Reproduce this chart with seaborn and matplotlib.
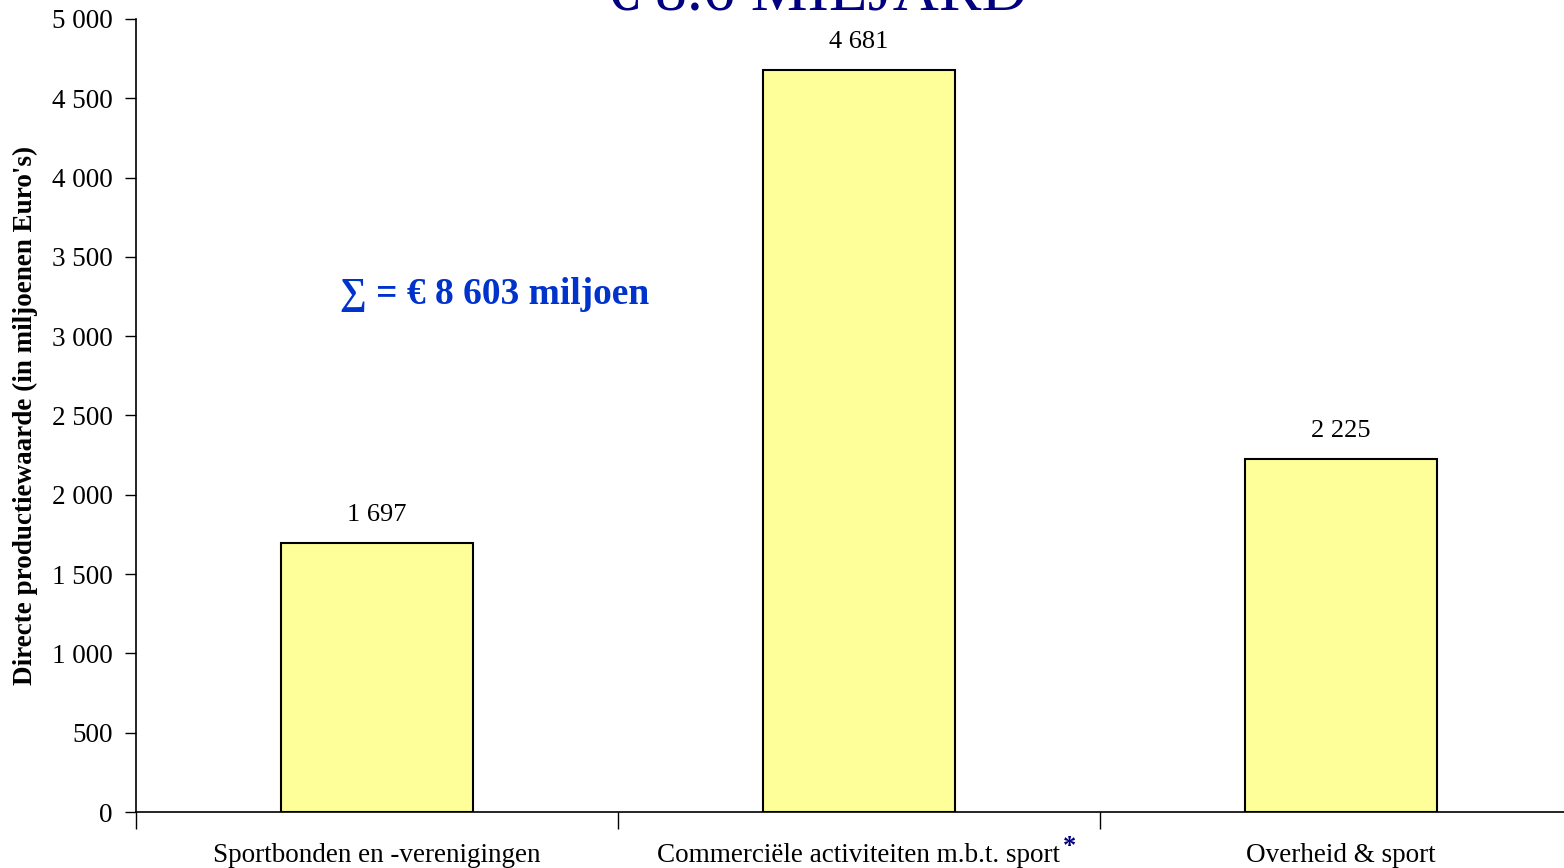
import matplotlib
matplotlib.use("Agg")
import matplotlib.pyplot as plt
import seaborn as sns
import pandas as pd

categories = ["Sportbonden en -verenigingen", "Commerciële activiteiten m.b.t. sport", "Overheid & sport"]
values = [1697, 4681, 2225]
yticks = [0, 500, 1000, 1500, 2000, 2500, 3000, 3500, 4000, 4500, 5000]
title = "€ 8.6 MILJARD"
sum_text = "∑ = € 8 603 miljoen"
ylabel = "Directe productiewaarde (in miljoenen Euro's)"

def fmt(v):
    return f"{v:,}".replace(",", " ")

sns.set_style("white")
plt.rcParams['font.family'] = ['Liberation Serif', 'DejaVu Serif']
plt.rcParams['text.color'] = 'black'
plt.rcParams['axes.labelcolor'] = 'black'
plt.rcParams['xtick.color'] = 'black'
plt.rcParams['ytick.color'] = 'black'

fig = plt.figure(figsize=(15.64, 8.68), dpi=100)
ax = fig.add_axes([136/1564, 56/868, 1446/1564, 793/868])

df = pd.DataFrame({"cat": categories, "val": values})
sns.barplot(data=df, x="cat", y="val", ax=ax, color="#FFFF99", saturation=1,
            width=0.4, edgecolor="black", linewidth=1.5)
for p in ax.patches:
    p.set_facecolor("#FFFF99")

ax.set_xlim(-0.5, 2.5)
ax.set_ylim(0, 5000)
ax.set_yticks(yticks)
ax.set_yticklabels([fmt(v) for v in yticks], fontsize=19.5, color="black")
ax.set_xticks([0, 1, 2])
ax.set_xticklabels(categories, fontsize=19.5, color="black")
ax.tick_params(axis="x", length=0, pad=22)
ax.tick_params(axis="y", length=8, width=1, direction="out", pad=9, left=True)
ax.set_xticks([-0.5, 0.5, 1.5, 2.5], minor=True)
ax.tick_params(axis="x", which="minor", length=12, width=1, direction="out", bottom=True)
ax.set_xlabel("")
ax.set_ylabel(ylabel, fontsize=19.5, fontweight="bold", labelpad=10, color="black")

for s in ["top", "right"]:
    ax.spines[s].set_visible(False)
for s in ["left", "bottom"]:
    ax.spines[s].set_color("black")
    ax.spines[s].set_linewidth(1.2)

for i, v in enumerate(values):
    ax.annotate(fmt(v), (i, v), xytext=(0, 12), textcoords="offset points",
                ha="center", va="bottom", fontsize=19, color="black")

ax.text(340/1564, 1 - 295/868, sum_text, transform=fig.transFigure, fontsize=27,
        fontweight="bold", color="#0033CC", ha="left", va="center")

fig.text(817/1564, 1 - 10/868, title, fontsize=46, color="#000080",
         ha="center", va="baseline")

fig.canvas.draw()
lbl = ax.get_xticklabels()[1]
bb = lbl.get_window_extent()
fig.text((bb.x1 + 2) / fig.bbox.width, (bb.y1 - 4) / fig.bbox.height, "*",
         color="#000080", fontsize=19, fontweight="bold", ha="left", va="center")

fig.savefig("out.png", dpi=100)
